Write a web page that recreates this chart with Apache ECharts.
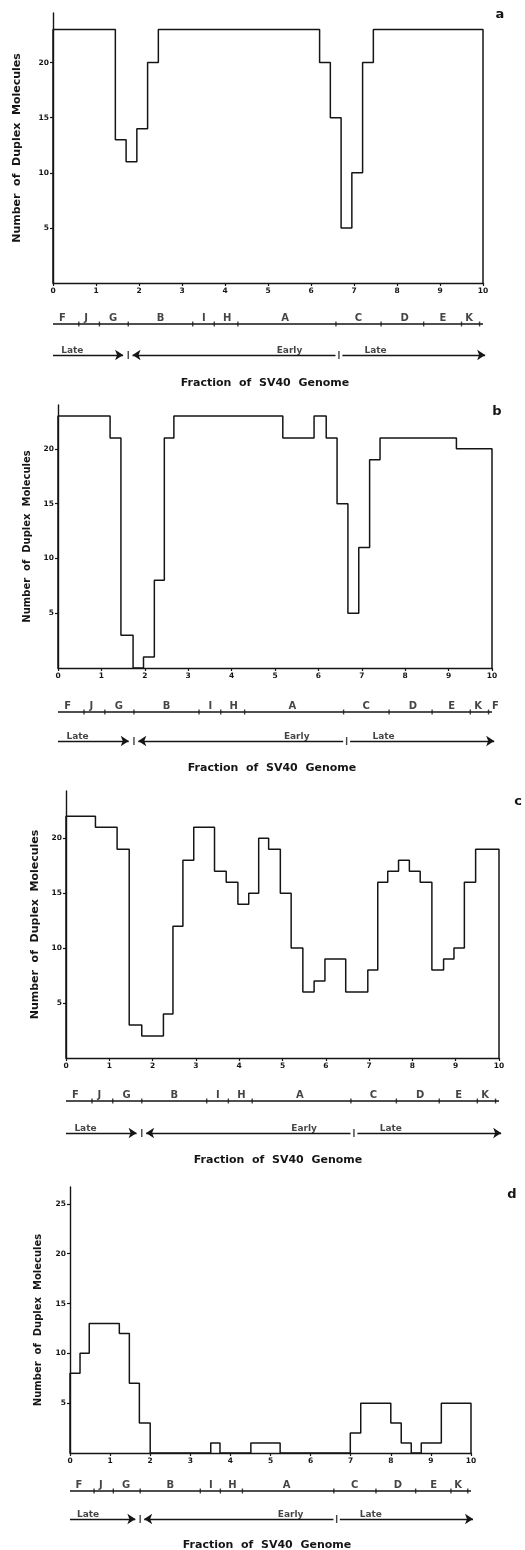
<!DOCTYPE html>
<html>
<head>
<meta charset="utf-8">
<script src="https://cdn.jsdelivr.net/npm/echarts@6/dist/echarts.min.js"></script>
<style>
  html, body { margin: 0; padding: 0; background: #fff; }
  #chart { width: 525px; height: 1550px; }
</style>
</head>
<body>
<div id="chart"></div>
<script>
// axis ticks
const xTicks = [0, 1, 2, 3, 4, 5, 6, 7, 8, 9, 10]
const yTicks = [5, 10, 15, 20]
const yTicksD = [5, 10, 15, 20, 25]

// step edges (start of each bin, last one = end) and duplex counts
const edgesA = [0, 1.45, 1.7, 1.95, 2.2, 2.45, 6.2, 6.45, 6.7, 6.95, 7.2, 7.45, 10]
const countsA = [23, 13, 11, 14, 20, 23, 20, 15, 5, 10, 20, 23]

const edgesB = [0, 1.2, 1.45, 1.73, 1.97, 2.22, 2.45, 2.67, 5.18, 5.9, 6.18, 6.43, 6.68, 6.93, 7.18, 7.42, 9.18, 10]
const countsB = [23, 21, 3, 0, 1, 8, 21, 23, 21, 23, 21, 15, 5, 11, 19, 21, 20]

const edgesC = [0, 0.68, 1.18, 1.46, 1.75, 2.25, 2.47, 2.7, 2.95, 3.43, 3.7, 3.97, 4.22, 4.45, 4.68, 4.95, 5.2,
  5.47, 5.73, 5.98, 6.46, 6.97, 7.2, 7.43, 7.68, 7.93, 8.18, 8.45, 8.72, 8.96, 9.2, 9.46, 10]
const countsC = [22, 21, 19, 3, 2, 4, 12, 18, 21, 17, 16, 14, 15, 20, 19, 15, 10, 6, 7, 9, 6, 8, 16, 17, 18, 17,
  16, 8, 9, 10, 16, 19]

const edgesD = [0, 0.25, 0.48, 1.23, 1.48, 1.73, 2.0, 3.51, 3.74, 4.51, 5.24, 6.99, 7.25, 8.0, 8.26, 8.51, 8.76, 9.26, 10]
const countsD = [8, 10, 13, 12, 7, 3, 0, 1, 0, 1, 0, 2, 5, 3, 1, 0, 1, 5]

// restriction fragment map under each panel
const fragNames = ['F', 'J', 'G', 'B', 'I', 'H', 'A', 'C', 'D', 'E', 'K']
const fragCenters = [0.22, 0.77, 1.4, 2.5, 3.51, 4.05, 5.4, 7.1, 8.18, 9.07, 9.68]
const fragCuts = [0.6, 1.08, 1.75, 3.25, 3.75, 4.3, 6.58, 7.63, 8.62, 9.5, 9.92]

// late / early transcription regions
const phaseNames = ['Late', 'Early', 'Late']
const phaseLabelPos = [0.45, 5.5, 7.5]
const phaseArrows = [[0, 1.63], [6.57, 1.85], [6.73, 10.05]]
const phaseCuts = [1.75, 6.65]

const panels = [
  { tag: 'a', edges: edgesA, counts: countsA, ticks: yTicks, yMax: 24.5, left: 53, top: 13, width: 430, height: 270,
    mapTop: 324, mapH: 31, nameGap: 30, nameSize: 11, tagX: 500, tagY: 15, titleX: 265, titleY: 383, extra: [] },
  { tag: 'b', edges: edgesB, counts: countsB, ticks: yTicks, yMax: 24, left: 58, top: 405, width: 434, height: 263,
    mapTop: 712, mapH: 29, nameGap: 24, nameSize: 10, tagX: 497, tagY: 412, titleX: 272, titleY: 768, extra: [['F', 10.08]] },
  { tag: 'c', edges: edgesC, counts: countsC, ticks: yTicks, yMax: 24.3, left: 66, top: 791, width: 433, height: 267,
    mapTop: 1101, mapH: 32, nameGap: 25, nameSize: 11, tagX: 518, tagY: 802, titleX: 278, titleY: 1160, extra: [] },
  { tag: 'd', edges: edgesD, counts: countsD, ticks: yTicksD, yMax: 26.7, left: 70, top: 1187, width: 401, height: 266,
    mapTop: 1491, mapH: 28, nameGap: 27, nameSize: 10, tagX: 512, tagY: 1195, titleX: 267, titleY: 1545, extra: [] }
]

const ink = '#151515'
const font = 'DejaVu Sans'
const auxMax = 10.3 // map rows run a bit past the end of the genome axis

function stepPoints(edges, counts) {
  const pts = [[edges[0], 0]]
  counts.forEach((c, i) => pts.push([edges[i], c]))
  const end = edges[edges.length - 1]
  pts.push([end, counts[counts.length - 1]])
  pts.push([end, 0])
  return pts
}

const grid = []
const xAxis = []
const yAxis = []
const series = []
const graphic = []

panels.forEach((p, i) => {
  const g = i * 2
  grid.push({ left: p.left, top: p.top, width: p.width, height: p.height })
  grid.push({ left: p.left, top: p.mapTop, width: p.width * auxMax / 10, height: p.mapH })

  xAxis.push({
    gridIndex: g, type: 'value', min: 0, max: 10,
    axisLine: { show: true, lineStyle: { color: ink, width: 1.4 } },
    axisTick: { show: true, customValues: xTicks, length: 3, lineStyle: { color: ink, width: 1.2 } },
    axisLabel: { customValues: xTicks, fontSize: 7.5, fontWeight: 'bold', color: ink, margin: 4, fontFamily: font },
    splitLine: { show: false }
  })
  xAxis.push({ gridIndex: g + 1, type: 'value', min: 0, max: auxMax, show: false })

  yAxis.push({
    gridIndex: g, type: 'value', min: 0, max: p.yMax,
    name: 'Number  of  Duplex  Molecules',
    nameLocation: 'middle',
    nameGap: p.nameGap,
    nameTextStyle: { fontSize: p.nameSize, fontWeight: 'bold', color: ink, fontFamily: font },
    axisLine: { show: true, lineStyle: { color: ink, width: 1.4 } },
    axisTick: { show: true, customValues: p.ticks, length: 3, lineStyle: { color: ink, width: 1.2 } },
    axisLabel: { customValues: p.ticks, fontSize: 7.5, fontWeight: 'bold', color: ink, margin: 4, fontFamily: font },
    splitLine: { show: false }
  })
  yAxis.push({ gridIndex: g + 1, type: 'value', min: 0, max: 1, show: false })

  // histogram outline
  series.push({
    type: 'line', xAxisIndex: g, yAxisIndex: g, step: 'end',
    showSymbol: false, clip: false,
    lineStyle: { color: ink, width: 1.5 },
    data: stepPoints(p.edges, p.counts)
  })

  // fragment map line + cut marks
  series.push({
    type: 'line', xAxisIndex: g + 1, yAxisIndex: g + 1, showSymbol: false, clip: false,
    lineStyle: { color: ink, width: 1.4 },
    data: [[0, 1], [10, 1]]
  })
  series.push({
    type: 'scatter', xAxisIndex: g + 1, yAxisIndex: g + 1, clip: false,
    symbol: 'rect', symbolSize: [1.4, 5],
    itemStyle: { color: ink },
    data: fragCuts.map(x => [x, 1])
  })
  const letters = fragNames.map((n, k) => ({ name: n, value: [fragCenters[k], 1] }))
  p.extra.forEach(e => letters.push({ name: e[0], value: [e[1], 1] }))
  series.push({
    type: 'scatter', xAxisIndex: g + 1, yAxisIndex: g + 1, clip: false,
    symbolSize: 0,
    label: {
      show: true, position: 'top', distance: 1, formatter: '{b}',
      fontSize: 10, fontWeight: 'bold', color: ink, fontFamily: font
    },
    data: letters
  })

  // late / early arrows
  series.push({
    type: 'scatter', xAxisIndex: g + 1, yAxisIndex: g + 1, clip: false,
    symbol: 'rect', symbolSize: [1.4, 8],
    itemStyle: { color: ink },
    data: phaseCuts.map(x => [x, 0]),
    markLine: {
      silent: true, symbol: ['none', 'arrow'], symbolSize: 8,
      label: { show: false },
      lineStyle: { color: ink, width: 1.4, type: 'solid' },
      emphasis: { disabled: true },
      data: phaseArrows.map(a => [{ coord: [a[0], 0] }, { coord: [a[1], 0] }])
    }
  })
  series.push({
    type: 'scatter', xAxisIndex: g + 1, yAxisIndex: g + 1, clip: false,
    symbolSize: 0,
    label: {
      show: true, position: 'top', distance: 0, formatter: '{b}',
      fontSize: 9, fontWeight: 'bold', color: ink, fontFamily: font
    },
    data: phaseNames.map((n, k) => ({ name: n, value: [phaseLabelPos[k], 0] }))
  })

  graphic.push({
    type: 'text', x: p.tagX, y: p.tagY,
    style: { text: p.tag, fontSize: 13, fontWeight: 'bold', fill: ink, align: 'center', verticalAlign: 'middle', fontFamily: font }
  })
  graphic.push({
    type: 'text', x: p.titleX, y: p.titleY,
    style: { text: 'Fraction  of  SV40  Genome', fontSize: 11, fontWeight: 'bold', fill: ink, align: 'center', verticalAlign: 'middle', fontFamily: font }
  })
})

const chart = echarts.init(document.getElementById('chart'), null, { renderer: 'canvas' })
chart.setOption({
  backgroundColor: '#fff',
  animation: false,
  grid: grid,
  xAxis: xAxis,
  yAxis: yAxis,
  series: series,
  graphic: graphic
})
</script>
</body>
</html>
